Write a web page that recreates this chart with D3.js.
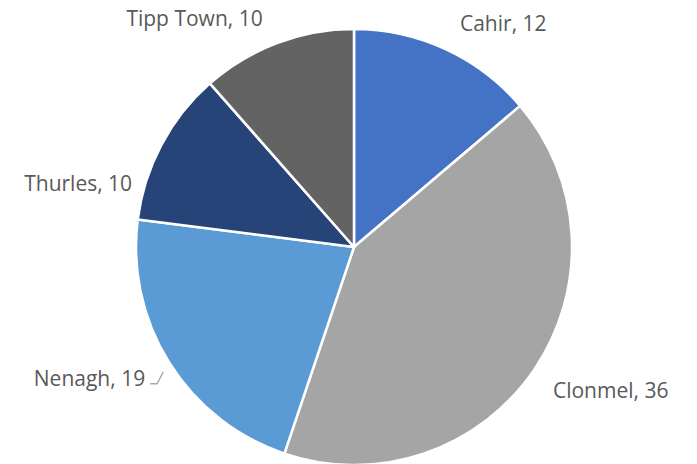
<!DOCTYPE html>
<html><head><meta charset="utf-8">
<script src="https://cdn.jsdelivr.net/npm/d3@7"></script>
<style>html,body{margin:0;padding:0;background:#fff;}svg{display:block;}</style>
</head><body>
<svg id="chart" width="697" height="464"></svg>
<script>
const categories = ["Cahir", "Clonmel", "Nenagh", "Thurles", "Tipp Town"];
const values = [12, 36, 19, 10, 10];
const colors = ["#4472C4", "#A5A5A5", "#5B9BD5", "#264478", "#636363"];
// label placement: anchor and small nudges from the default radial position
const labelAnchor = ["start", "start", "end", "end", "end"];
const labelNudge = [[1, 3], [-8, 3], [3, -2], [-1, 53], [-3, 5]];

const W = 697, H = 464, cx = 354, cy = 247, r = 218, labelR = 250;
const svg = d3.select("#chart");
const data = categories.map((c, i) => ({ name: c, value: values[i], color: colors[i], i }));
const pie = d3.pie().value(d => d.value).sort(null);
const arcs = pie(data);
const arc = d3.arc().innerRadius(0).outerRadius(r);
const g = svg.append("g").attr("transform", `translate(${cx},${cy})`);

g.selectAll("path").data(arcs).join("path")
  .attr("d", arc)
  .attr("fill", d => d.data.color)
  .attr("stroke", "#fff").attr("stroke-width", 2.5).attr("stroke-linejoin", "round");

function labelPos(d) {
  const a = (d.startAngle + d.endAngle) / 2;
  const n = labelNudge[d.data.i];
  return [labelR * Math.sin(a) + n[0], -labelR * Math.cos(a) + n[1]];
}

g.selectAll("text").data(arcs).join("text")
  .attr("x", d => labelPos(d)[0])
  .attr("y", d => labelPos(d)[1])
  .attr("text-anchor", d => labelAnchor[d.data.i])
  .attr("dominant-baseline", "central")
  .attr("font-family", "'Open Sans', Lato, sans-serif")
  .attr("font-size", 21)
  .attr("fill", "#595959")
  .text(d => `${d.data.name}, ${d.data.value}`);

// leader line for Nenagh
const nen = arcs[2];
const p = labelPos(nen);
const a = (nen.startAngle + nen.endAngle) / 2 - 0.02;
const edge = [(r + 10) * Math.sin(a), -(r + 10) * Math.cos(a)];
g.append("polyline")
  .attr("points", [[p[0] + 5, p[1] + 6], [p[0] + 12, p[1] + 6], edge].map(q => q.join(",")).join(" "))
  .attr("fill", "none").attr("stroke", "#A6A6A6").attr("stroke-width", 1.3);
</script>
</body></html>
